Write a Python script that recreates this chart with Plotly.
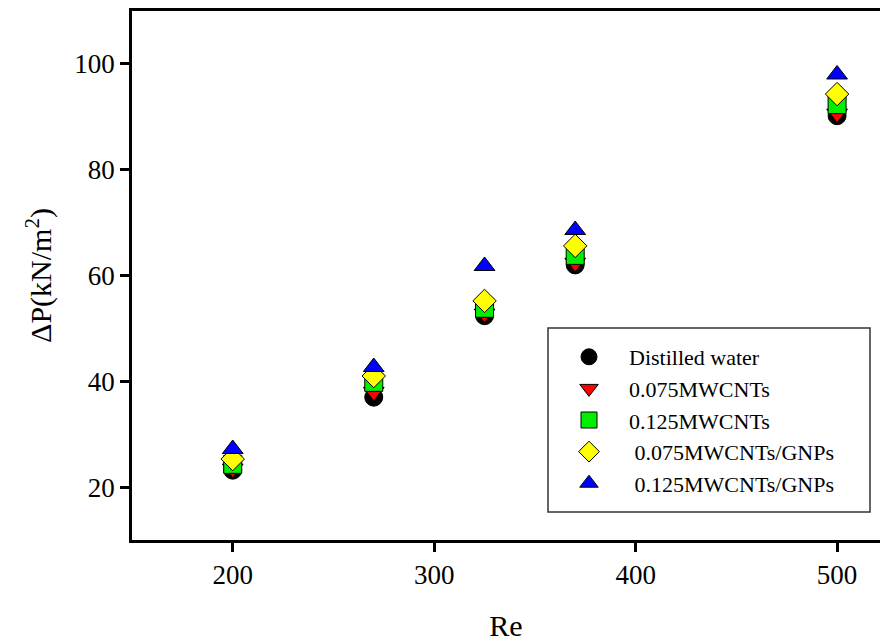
import plotly.graph_objects as go

# Reynolds numbers tested
re_values = [200, 270, 325, 370, 500]

# Pressure drop (kN/m^2) for each working fluid
dp_water = [23.2, 37.0, 52.4, 62.0, 90.2]
dp_mwcnt_075 = [23.5, 38.0, 52.8, 62.4, 90.6]
dp_mwcnt_125 = [24.3, 39.8, 53.8, 63.8, 92.3]
dp_hybrid_075 = [25.3, 41.0, 55.2, 65.6, 94.3]
dp_hybrid_125 = [27.2, 42.7, 61.8, 68.6, 98.0]

series_names = [
    "Distilled water",
    "0.075MWCNTs",
    "0.125MWCNTs",
    " 0.075MWCNTs/GNPs",
    " 0.125MWCNTs/GNPs",
]
series_values = [dp_water, dp_mwcnt_075, dp_mwcnt_125, dp_hybrid_075, dp_hybrid_125]
series_symbols = ["circle", "triangle-down", "square", "diamond", "triangle-up"]
series_colors = ["#000000", "#ff0000", "#00ee00", "#ffff00", "#0000ff"]

y_ticks = [20, 40, 60, 80, 100]
x_ticks = [200, 300, 400, 500]

FONT = "Liberation Serif, Times New Roman, serif"

fig = go.Figure()
for name, vals, sym, col in zip(series_names, series_values, series_symbols, series_colors):
    fig.add_trace(
        go.Scatter(
            x=re_values,
            y=vals,
            mode="markers",
            name=name,
            marker=dict(
                symbol=sym,
                size=18,
                color=col,
                line=dict(color="#000000", width=1),
            ),
        )
    )

# legend frame
fig.add_shape(
    type="rect",
    xref="paper",
    yref="paper",
    x0=(548 - 132) / 748,
    x1=(870 - 132) / 748,
    y0=(540 - 512) / 529,
    y1=(540 - 328) / 529,
    line=dict(color="#333333", width=1.5),
    fillcolor="rgba(0,0,0,0)",
    layer="below",
)

fig.update_layout(
    width=880,
    height=644,
    margin=dict(l=132, r=0, t=11, b=104),
    paper_bgcolor="white",
    plot_bgcolor="white",
    font=dict(family=FONT, color="#000000", size=27),
    showlegend=True,
    legend=dict(
        x=(549 - 132) / 748,
        y=(540 - 336) / 529,
        xanchor="left",
        yanchor="top",
        bgcolor="rgba(0,0,0,0)",
        borderwidth=0,
        font=dict(family=FONT, size=22, color="#000000"),
        itemwidth=70,
        tracegroupgap=0,
    ),
    xaxis=dict(
        range=[150, 521.3],
        tickvals=x_ticks,
        ticks="outside",
        ticklen=9,
        tickwidth=2.5,
        tickcolor="#000000",
        showline=True,
        linewidth=2.5,
        linecolor="#000000",
        mirror=True,
        showgrid=False,
        zeroline=False,
        tickfont=dict(size=27),
        title=dict(text="Re", font=dict(size=30), standoff=26),
    ),
    yaxis=dict(
        range=[10, 110],
        tickvals=y_ticks,
        ticks="outside",
        ticklen=9,
        tickwidth=2.5,
        tickcolor="#000000",
        showline=True,
        linewidth=2.5,
        linecolor="#000000",
        mirror=False,
        showgrid=False,
        zeroline=False,
        tickfont=dict(size=27),
        title=dict(text="ΔP(kN/m<sup>2</sup>)", font=dict(size=30), standoff=14),
    ),
)

fig.write_html("out.html")
